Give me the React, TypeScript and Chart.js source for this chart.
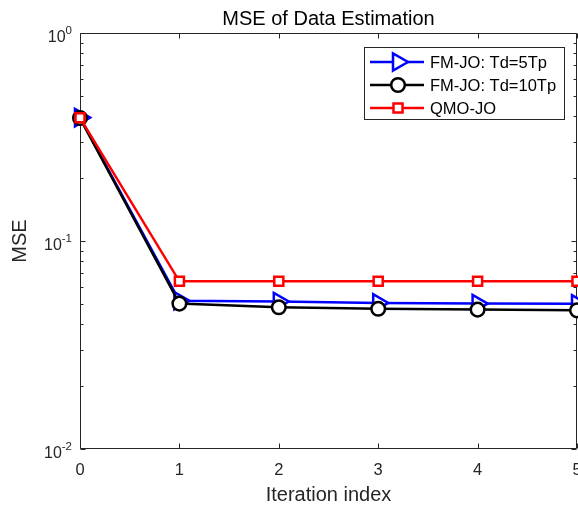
import React, { useEffect, useRef } from 'react';
import { Chart, registerables } from 'chart.js';

Chart.register(...registerables);

const ITERATIONS = [0, 1, 2, 3, 4, 5];
const FMJO_TD5 = [0.392, 0.0516, 0.0512, 0.0504, 0.05, 0.0499];
const FMJO_TD10 = [0.39, 0.05, 0.048, 0.0472, 0.0468, 0.0464];
const QMOJO = [0.391, 0.064, 0.064, 0.064, 0.064, 0.064];
const SERIES_NAMES = ['FM-JO: Td=5Tp', 'FM-JO: Td=10Tp', 'QMO-JO'];
const SERIES_COLORS = ['#0000ff', '#000000', '#ff0000'];
const SERIES_MARKERS = ['triangle', 'circle', 'rect'];
const Y_TICKS = [1, 0.1, 0.01];
const Y_TICK_EXPONENTS = ['0', '-1', '-2'];
const X_TICKS = [0, 1, 2, 3, 4, 5];

const FONT = "'Liberation Sans', Arial, Helvetica, sans-serif";
const AXIS_COLOR = '#262626';
const LINE_W = 2.5;
const MARKER_R: Record<string, number> = { triangle: 10, circle: 6.8, rect: 6.4 };

function drawMarker(ctx: CanvasRenderingContext2D, style: string, x: number, y: number, r: number, color: string) {
  ctx.save();
  ctx.lineWidth = LINE_W;
  ctx.strokeStyle = color;
  ctx.fillStyle = '#ffffff';
  ctx.beginPath();
  if (style === 'triangle') {
    for (let k = 0; k < 3; k++) {
      const a = Math.PI / 2 + (k * 2 * Math.PI) / 3;
      const px = x + Math.sin(a) * r;
      const py = y - Math.cos(a) * r;
      if (k === 0) ctx.moveTo(px, py);
      else ctx.lineTo(px, py);
    }
    ctx.closePath();
  } else if (style === 'circle') {
    ctx.arc(x, y, r, 0, Math.PI * 2);
  } else {
    const s = r * Math.SQRT1_2;
    ctx.rect(x - s, y - s, 2 * s, 2 * s);
  }
  ctx.fill();
  ctx.stroke();
  ctx.restore();
}

const matlabAxes = {
  id: 'matlabAxes',
  beforeDatasetsDraw(chart: any) {
    const { ctx, chartArea } = chart;
    const xs = chart.scales.x;
    const ys = chart.scales.y;
    const L = Math.round(chartArea.left) + 0.5;
    const R = Math.round(chartArea.right) - 0.5;
    const T = Math.round(chartArea.top) + 0.5;
    const B = Math.round(chartArea.bottom) - 0.5;
    ctx.save();
    ctx.strokeStyle = AXIS_COLOR;
    ctx.lineWidth = 1;
    ctx.beginPath();
    ctx.rect(L, T, R - L, B - T);
    ctx.stroke();
    ctx.beginPath();
    for (const v of X_TICKS) {
      const px = Math.round(xs.getPixelForValue(v)) + 0.5;
      ctx.moveTo(px, B);
      ctx.lineTo(px, B - 5);
      ctx.moveTo(px, T);
      ctx.lineTo(px, T + 5);
    }
    for (const v of Y_TICKS) {
      const py = Math.round(ys.getPixelForValue(v)) + 0.5;
      ctx.moveTo(L, py);
      ctx.lineTo(L + 5, py);
      ctx.moveTo(R, py);
      ctx.lineTo(R - 5, py);
    }
    for (const d of [0.01, 0.1]) {
      for (let m = 2; m <= 9; m++) {
        const py = Math.round(ys.getPixelForValue(d * m)) + 0.5;
        ctx.moveTo(L, py);
        ctx.lineTo(L + 3, py);
        ctx.moveTo(R, py);
        ctx.lineTo(R - 3, py);
      }
    }
    ctx.stroke();

    // y tick labels 10^n
    ctx.fillStyle = AXIS_COLOR;
    ctx.textAlign = 'left';
    ctx.textBaseline = 'middle';
    Y_TICKS.forEach((v, i) => {
      const py = ys.getPixelForValue(v);
      ctx.font = `11.5px ${FONT}`;
      const ew = ctx.measureText(Y_TICK_EXPONENTS[i]).width;
      ctx.font = `16px ${FONT}`;
      const bw = ctx.measureText('10').width;
      const right = 72;
      ctx.fillText('10', right - ew - bw, py + 5);
      ctx.font = `11.5px ${FONT}`;
      ctx.fillText(Y_TICK_EXPONENTS[i], right - ew, py - 2);
    });
    ctx.restore();
  },
  afterDraw(chart: any) {
    const { ctx } = chart;
    ctx.save();
    ctx.fillStyle = '#ffffff';
    ctx.strokeStyle = AXIS_COLOR;
    ctx.lineWidth = 1;
    ctx.fillRect(364.5, 47.5, 200, 72);
    ctx.strokeRect(364.5, 47.5, 200, 72);
    const rows = [62, 85, 108];
    SERIES_NAMES.forEach((name, i) => {
      const yy = rows[i];
      ctx.strokeStyle = SERIES_COLORS[i];
      ctx.lineWidth = LINE_W;
      ctx.beginPath();
      ctx.moveTo(370, yy);
      ctx.lineTo(424, yy);
      ctx.stroke();
      drawMarker(ctx, SERIES_MARKERS[i], 398, yy, MARKER_R[SERIES_MARKERS[i]], SERIES_COLORS[i]);
      ctx.fillStyle = '#000000';
      ctx.font = `16.5px ${FONT}`;
      ctx.textAlign = 'left';
      ctx.textBaseline = 'middle';
      ctx.fillText(name, 430, yy + 1);
    });
    ctx.restore();
  },
};

function makeDataset(label: string, values: number[], color: string, marker: string, order: number) {
  return {
    label,
    data: ITERATIONS.map((it, i) => ({ x: it, y: values[i] })),
    borderColor: color,
    backgroundColor: color,
    borderWidth: LINE_W,
    pointStyle: marker,
    pointRotation: marker === 'triangle' ? 90 : 0,
    pointRadius: MARKER_R[marker],
    pointHoverRadius: MARKER_R[marker],
    pointBorderWidth: LINE_W,
    pointBorderColor: color,
    pointBackgroundColor: '#ffffff',
    tension: 0,
    clip: false as any,
    order,
  };
}

export default function App() {
  const ref = useRef<HTMLCanvasElement | null>(null);
  useEffect(() => {
    if (!ref.current) return;
    const chart = new Chart(ref.current, {
      type: 'line',
      data: {
        datasets: [
          makeDataset(SERIES_NAMES[0], FMJO_TD5, SERIES_COLORS[0], SERIES_MARKERS[0], 2),
          makeDataset(SERIES_NAMES[1], FMJO_TD10, SERIES_COLORS[1], SERIES_MARKERS[1], 1),
          makeDataset(SERIES_NAMES[2], QMOJO, SERIES_COLORS[2], SERIES_MARKERS[2], 0),
        ] as any,
      },
      options: {
        responsive: false,
        animation: false,
        devicePixelRatio: 1,
        layout: { padding: { left: 0, right: 23, top: 0, bottom: 0 } },
        plugins: {
          legend: { display: false },
          tooltip: { enabled: false },
          title: {
            display: true,
            fullSize: false,
            text: 'MSE of Data Estimation',
            color: '#000000',
            font: { family: FONT, size: 20, weight: 'normal', lineHeight: 1.2 },
            padding: { top: 7, bottom: 2 },
          },
        },
        scales: {
          x: {
            type: 'linear',
            min: 0,
            max: 5,
            grid: { display: false, drawTicks: false },
            border: { display: false },
            ticks: {
              stepSize: 1,
              color: AXIS_COLOR,
              font: { family: FONT, size: 16.5 },
              padding: 12,
            },
            title: {
              display: true,
              text: 'Iteration index',
              color: AXIS_COLOR,
              font: { family: FONT, size: 20, lineHeight: 1.05 },
              padding: { top: 0, bottom: 0 },
            },
            afterFit(scale: any) {
              scale.height = 57;
            },
          },
          y: {
            type: 'logarithmic',
            min: 0.01,
            max: 1,
            grid: { display: false, drawTicks: false },
            border: { display: false },
            ticks: { display: false },
            title: {
              display: true,
              text: 'MSE',
              color: AXIS_COLOR,
              font: { family: FONT, size: 20, lineHeight: 1.2 },
              padding: { top: 8, bottom: 0 },
            },
            afterFit(scale: any) {
              scale.width = 80;
            },
          },
        },
      },
      plugins: [matlabAxes],
    });
    return () => chart.destroy();
  }, []);
  return (
    <div
      style={{
        position: 'fixed',
        left: 0,
        top: 0,
        width: 578,
        height: 506,
        overflow: 'hidden',
        background: '#ffffff',
      }}
    >
      <canvas ref={ref} width={600} height={506} style={{ display: 'block' }} />
    </div>
  );
}
